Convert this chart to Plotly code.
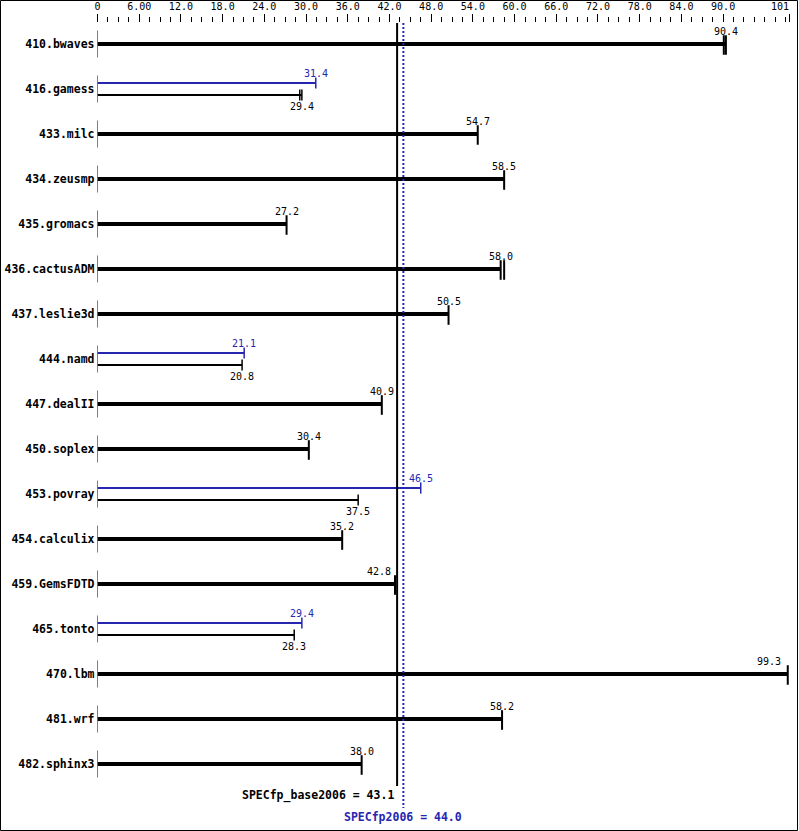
import plotly.graph_objects as go

benchmarks = ["410.bwaves", "416.gamess", "433.milc", "434.zeusmp", "435.gromacs",
              "436.cactusADM", "437.leslie3d", "444.namd", "447.dealII", "450.soplex",
              "453.povray", "454.calculix", "459.GemsFDTD", "465.tonto", "470.lbm",
              "481.wrf", "482.sphinx3"]
base_scores = [90.4, 29.4, 54.7, 58.5, 27.2, 58.0, 50.5, 20.8, 40.9, 30.4,
               37.5, 35.2, 42.8, 28.3, 99.3, 58.2, 38.0]
peak_scores = [None, 31.4, None, None, None, None, None, 21.1, None, None,
               46.5, None, None, 29.4, None, None, None]
base_other_run = [90.1, 29.1, None, None, None, 58.5, None, None, None, None,
                  None, None, None, None, None, None, None]
major_ticks = [0, 6, 12, 18, 24, 30, 36, 42, 48, 54, 60, 66, 72, 78, 84, 90, 99.55]
major_labels = ["0", "6.00", "12.0", "18.0", "24.0", "30.0", "36.0", "42.0", "48.0",
                "54.0", "60.0", "66.0", "72.0", "78.0", "84.0", "90.0", "101"]
specfp_base = 43.1
specfp_peak = 44.0

BLUE = "#2626b0"
W, H = 799, 831
TOP = 23
ROW0, ROWH = 44, 45
MONO = "DejaVu Sans Mono"
plot_h = H - TOP


def yv(px):
    return (px - ROW0) / ROWH


OFF = 6 / ROWH
CAPD = 1 / ROWH

fig = go.Figure()

sx, sy = [], []
for i in range(len(benchmarks)):
    sx += [0, 0, None]
    sy += [i - 13.5 / ROWH, i + 13.5 / ROWH, None]
fig.add_trace(go.Scatter(x=sx, y=sy, mode="lines", line=dict(color="black", width=1),
                         hoverinfo="skip"))

thick_x, thick_y, thin_bx, thin_by, thin_px, thin_py = [], [], [], [], [], []
cap_big_x, cap_big_y, cap_sb_x, cap_sb_y, cap_sp_x, cap_sp_y = [], [], [], [], [], []
annotations = []
for i, (b, p) in enumerate(zip(base_scores, peak_scores)):
    if p is None:
        thick_x += [0, b, None]
        thick_y += [i, i, None]
        cap_big_x.append(b)
        cap_big_y.append(i + CAPD)
        if base_other_run[i] is not None:
            cap_big_x.append(base_other_run[i])
            cap_big_y.append(i + CAPD)
        if b > 95:
            anchor, xs = "right", -5
        elif abs(b - specfp_base) < 2:
            anchor, xs = "right", -2
        else:
            anchor, xs = "center", 0
        annotations.append(dict(x=b, y=i, text=f"{b:.1f}", showarrow=False,
                                xanchor=anchor, yanchor="middle", yshift=13, xshift=xs,
                                font=dict(family=MONO, size=10, color="black")))
    else:
        thin_px += [0, p, None]
        thin_py += [i - OFF, i - OFF, None]
        thin_bx += [0, b, None]
        thin_by += [i + OFF, i + OFF, None]
        cap_sp_x.append(p)
        cap_sp_y.append(i - OFF)
        cap_sb_x.append(b)
        cap_sb_y.append(i + OFF)
        if base_other_run[i] is not None:
            cap_sb_x.append(base_other_run[i])
            cap_sb_y.append(i + OFF)
        annotations.append(dict(x=p, y=i, text=f"{p:.1f}", showarrow=False,
                                xanchor="center", yanchor="middle", yshift=16,
                                font=dict(family=MONO, size=10, color=BLUE)))
        annotations.append(dict(x=b, y=i, text=f"{b:.1f}", showarrow=False,
                                xanchor="center", yanchor="middle", yshift=-17,
                                font=dict(family=MONO, size=10, color="black")))

fig.add_trace(go.Scatter(x=thick_x, y=thick_y, mode="lines",
                         line=dict(color="black", width=4), hoverinfo="skip"))
fig.add_trace(go.Scatter(x=thin_bx, y=thin_by, mode="lines",
                         line=dict(color="black", width=2), hoverinfo="skip"))
fig.add_trace(go.Scatter(x=thin_px, y=thin_py, mode="lines",
                         line=dict(color=BLUE, width=2), hoverinfo="skip"))
fig.add_trace(go.Scatter(x=cap_big_x, y=cap_big_y, mode="markers",
                         marker=dict(symbol="line-ns", size=14, color="black",
                                     line=dict(width=2, color="black")), hoverinfo="skip"))
fig.add_trace(go.Scatter(x=cap_sb_x, y=cap_sb_y, mode="markers",
                         marker=dict(symbol="line-ns", size=8, color="black",
                                     line=dict(width=1.5, color="black")), hoverinfo="skip"))
fig.add_trace(go.Scatter(x=cap_sp_x, y=cap_sp_y, mode="markers",
                         marker=dict(symbol="line-ns", size=8, color=BLUE,
                                     line=dict(width=1.5, color=BLUE)), hoverinfo="skip"))

fig.add_trace(go.Scatter(x=[specfp_base, specfp_base], y=[yv(22), yv(786)], mode="lines",
                         line=dict(color="black", width=2), hoverinfo="skip"))
fig.add_trace(go.Scatter(x=[specfp_peak, specfp_peak], y=[yv(23), yv(808)], mode="lines",
                         line=dict(color=BLUE, width=2, dash="2px,2px"), hoverinfo="skip"))

annotations.append(dict(x=specfp_base, y=yv(795), text=f"SPECfp_base2006 = {specfp_base:.1f}",
                        showarrow=False, xanchor="right", yanchor="middle", xshift=-1,
                        font=dict(family=MONO, size=11.5, color="black", weight="bold")))
annotations.append(dict(x=specfp_peak, y=yv(817), text=f"SPECfp2006 = {specfp_peak:.1f}",
                        showarrow=False, xanchor="center", yanchor="middle",
                        font=dict(family=MONO, size=11.5, color=BLUE, weight="bold")))
# last axis label is drawn right-aligned against the final tick
annotations.append(dict(x=major_ticks[-1], xref="x", yref="paper", y=1 + (TOP - 7) / plot_h,
                        text=major_labels[-1], showarrow=False,
                        xanchor="right", yanchor="middle", xshift=1,
                        font=dict(family=MONO, size=10, color="black")))
tick_text = major_labels[:-1] + [""]

fig.update_layout(
    width=W, height=H, autosize=False,
    margin=dict(l=0, r=0, t=TOP, b=0, pad=0, autoexpand=False),
    paper_bgcolor="white", plot_bgcolor="white",
    showlegend=False,
    annotations=annotations,
    shapes=[dict(type="rect", xref="paper", yref="paper",
                 x0=0.5 / W, x1=797.5 / W,
                 y0=1 - 830.5 / plot_h + TOP / plot_h, y1=1 + 22.5 / plot_h,
                 line=dict(color="black", width=1), fillcolor="rgba(0,0,0,0)", layer="above")],
    xaxis=dict(
        domain=[97.5 / W, 789.5 / W], range=[0, 99.55], side="top", automargin=False,
        tickmode="array", tickvals=major_ticks, ticktext=tick_text,
        ticks="outside", ticklen=8, tickwidth=1, tickcolor="black",
        tickfont=dict(family=MONO, size=10, color="black"),
        minor=dict(dtick=1.5, tick0=0, ticks="outside", ticklen=5, tickwidth=1,
                   tickcolor="black", showgrid=False),
        showgrid=False, zeroline=False, showline=False, fixedrange=True,
    ),
    yaxis=dict(
        range=[yv(H), yv(TOP)], tickmode="array", automargin=False,
        tickvals=list(range(len(benchmarks))), ticktext=benchmarks,
        ticks="", showgrid=False, zeroline=False, showline=False,
        tickfont=dict(family=MONO, size=11.5, color="black", weight="bold"),
        ticklabelstandoff=2, fixedrange=True,
    ),
)

post = ("document.documentElement.style.overflow='hidden';"
        "document.body.style.margin='0';document.body.style.overflow='hidden';")
fig.write_html("out.html", config={"displayModeBar": False, "responsive": False},
               post_script=post)
